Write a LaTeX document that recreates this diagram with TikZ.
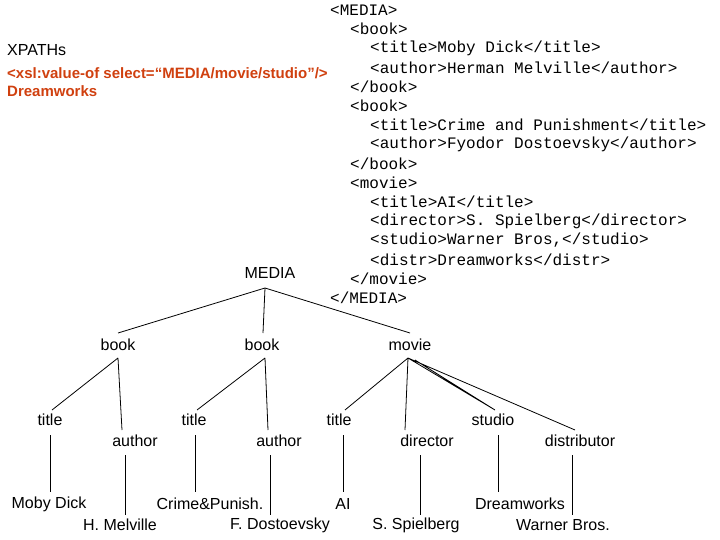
\documentclass[tikz,border=0pt]{standalone}
\usepackage{fontspec}
\setmainfont{Liberation Sans}
\newfontfamily\xmlfont{Liberation Mono}
\definecolor{xsl}{HTML}{D0400F}
\begin{document}
\begin{tikzpicture}[x=1pt,y=-1pt,
  t/.style={font=\fontsize{16}{18}\selectfont,inner sep=0pt},
  xm/.style={font=\xmlfont\fontsize{16}{18}\selectfont,inner sep=0pt,anchor=west},
  o/.style={font=\fontsize{15}{18}\selectfont\bfseries,inner sep=0pt,anchor=west,text=xsl},
  e/.style={line width=0.8pt}]
\useasboundingbox (0,0) rectangle (720,540);
\node[t,anchor=west] (xp) at (7,50) {XPATHs};
\node[o] (sel) at (7,73) {<xsl:value-of select=“MEDIA/movie/studio"/>};
\node[o] (res) at (7,91) {Dreamworks};
\node[xm] (x0) at (330,10.0) {<MEDIA>};
\node[xm] (x1) at (350,29.2) {<book>};
\node[xm] (x2) at (370,48.4) {<title>Moby Dick</title>};
\node[xm] (x3) at (370,67.6) {<author>Herman Melville</author>};
\node[xm] (x4) at (350,86.8) {</book>};
\node[xm] (x5) at (350,106.0) {<book>};
\node[xm] (x6) at (370,125.2) {<title>Crime and Punishment</title>};
\node[xm] (x7) at (370,144.4) {<author>Fyodor Dostoevsky</author>};
\node[xm] (x8) at (350,163.6) {</book>};
\node[xm] (x9) at (350,182.8) {<movie>};
\node[xm] (x10) at (370,202.0) {<title>AI</title>};
\node[xm] (x11) at (370,221.2) {<director>S. Spielberg</director>};
\node[xm] (x12) at (370,240.4) {<studio>Warner Bros,</studio>};
\node[xm] (x13) at (370,259.6) {<distr>Dreamworks</distr>};
\node[xm] (x14) at (350,278.8) {</movie>};
\node[xm] (x15) at (330,298.0) {</MEDIA>};
\node[t] (media) at (270,273) {MEDIA};
\node[t] (b1) at (118,345) {book};
\node[t] (b2) at (262,345) {book};
\node[t] (mv) at (410,345) {movie};
\node[t] (t1) at (50,420) {title};
\node[t] (a1) at (135,441) {author};
\node[t] (t2) at (194,420) {title};
\node[t] (a2) at (279,441) {author};
\node[t] (t3) at (339,420) {title};
\node[t] (dr) at (427,441) {director};
\node[t] (st) at (493,420) {studio};
\node[t] (ds) at (580,441) {distributor};
\node[t] (l1) at (49,504) {Moby Dick};
\node[t] (l2) at (120,525) {H. Melville};
\node[t] (l3) at (210,504) {Crime\&Punish.};
\node[t] (l4) at (280,525) {F. Dostoevsky};
\node[t] (l5) at (343,504) {AI};
\node[t] (l6) at (416,525) {S. Spielberg};
\node[t] (l7) at (520,504) {Dreamworks};
\node[t] (l8) at (563,525) {Warner Bros.};
\coordinate (mr) at (265,288);
\coordinate (br1) at (118,358);
\coordinate (br2) at (265,358);
\coordinate (mvr) at (408,358);
\draw[e] (mr) -- (118,333) (mr) -- (263,333) (mr) -- (410,333);
\draw[e] (br1) -- (52,410) (br1) -- (122,430);
\draw[e] (br2) -- (197,410) (br2) -- (268,430);
\draw[e] (mvr) -- (345,410) (mvr) -- (405,430) (mvr) -- (495,410) (mvr) -- (575,430) (415,360) -- (495,410);
\draw[e] (50,435) -- (50,492) (125,455) -- (125,515) (195,435) -- (195,492) (270,455) -- (270,515)
  (343,435) -- (343,492) (420,455) -- (420,515) (498,435) -- (498,492) (572,455) -- (572,515);
\end{tikzpicture}
\end{document}
